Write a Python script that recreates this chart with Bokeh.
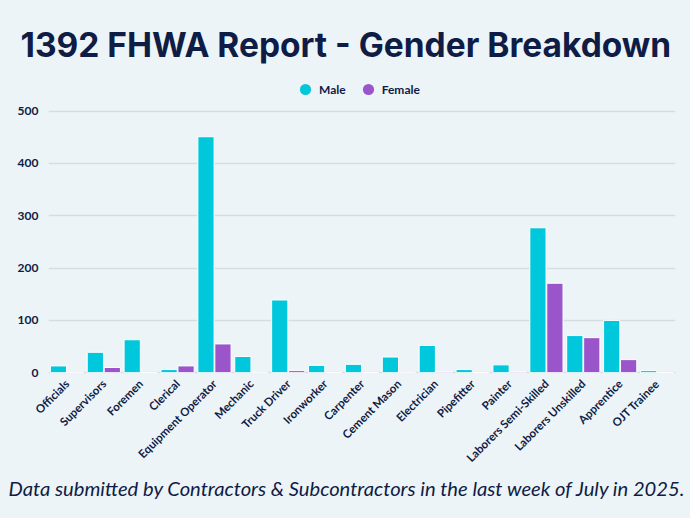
import math
from bokeh.plotting import figure
from bokeh.models import ColumnDataSource, FactorRange, Range1d, Legend, LegendItem, Title
from bokeh.transform import dodge
from bokeh.embed import file_html
from bokeh.resources import INLINE

categories = ["Officials", "Supervisors", "Foremen", "Clerical", "Equipment Operator",
              "Mechanic", "Truck Driver", "Ironworker", "Carpenter", "Cement Mason",
              "Electrician", "Pipefitter", "Painter", "Laborers Semi-Skilled",
              "Laborers Unskilled", "Apprentice", "OJT Trainee"]
male = [13, 39, 63, 6, 451, 31, 139, 14, 16, 30, 52, 6, 15, 277, 71, 100, 4]
female = [1, 10, 0, 13, 55, 1, 4, 0, 0, 1, 2, 0, 2, 171, 67, 25, 0]
y_ticks = [0, 100, 200, 300, 400, 500]

BG = "#edf4f7"
NAVY = "#0f1c45"
CYAN = "#00c8dc"
PURPLE = "#9a55cb"

src = ColumnDataSource(dict(cat=categories, male=male, female=female))

p = figure(x_range=FactorRange(*categories, range_padding=0),
           y_range=Range1d(-1.5, 568),
           frame_width=627, frame_height=298,
           output_backend="svg", toolbar_location=None,
           background_fill_color=BG, border_fill_color=BG,
           min_border_left=48, min_border_right=15, min_border_top=75, min_border_bottom=145)
p.outline_line_color = None

p.vbar(x=dodge("cat", -0.23, range=p.x_range), top="male", width=0.44, source=src,
       fill_color=CYAN, line_color="white", line_width=1)
p.vbar(x=dodge("cat", 0.23, range=p.x_range), top="female", width=0.44, source=src,
       fill_color=PURPLE, line_color="white", line_width=1)

lm = p.scatter(x=[categories[0]], y=[-100], size=12, marker="circle", fill_color=CYAN, line_color=None)
lf = p.scatter(x=[categories[0]], y=[-100], size=12, marker="circle", fill_color=PURPLE, line_color=None)

p.xgrid.grid_line_color = None
p.ygrid.grid_line_color = "#d5dde2"
p.ygrid.grid_line_width = 1.5
p.yaxis.ticker = y_ticks
p.yaxis.axis_line_color = None
p.yaxis.major_tick_line_color = None
p.yaxis.minor_tick_line_color = None
p.yaxis.major_tick_out = 0
p.yaxis.minor_tick_out = 0
p.yaxis.major_label_standoff = 10
p.xaxis.axis_line_color = None
p.xaxis.major_tick_line_color = None
p.xaxis.major_tick_out = 0
p.xaxis.major_label_orientation = math.pi / 4
p.xaxis.major_label_standoff = 8
for ax in (p.xaxis, p.yaxis):
    ax.major_label_text_font = "Lato"
    ax.major_label_text_font_style = "bold"
    ax.major_label_text_color = NAVY
p.xaxis.major_label_text_font_size = "11.5px"
p.yaxis.major_label_text_font_size = "12px"

legend = Legend(items=[LegendItem(label="Male", renderers=[lm]),
                       LegendItem(label="Female", renderers=[lf])],
                orientation="horizontal", location=(243, 270),
                glyph_width=28, glyph_height=28, label_standoff=-3, spacing=8,
                padding=0, margin=0, border_line_color=None,
                background_fill_alpha=0,
                label_text_font="Lato", label_text_font_style="bold",
                label_text_font_size="12px", label_text_color=NAVY)
p.add_layout(legend, "center")

caption = Title(text="Data submitted by Contractors & Subcontractors in the last week of July in 2025.",
                align="left", text_font="Lato", text_font_style="italic",
                text_font_size="20.2px", text_color=NAVY, standoff=5, offset=-40)
p.add_layout(caption, "below")

p.title = Title(text="1392 FHWA Report - Gender Breakdown", align="left",
                text_font="Inter", text_font_style="bold", text_font_size="33.5px",
                text_color=NAVY, standoff=21, offset=-28)

html = file_html(p, INLINE)
html = html.replace("</head>", "<style>html,body{background:%s;}</style></head>" % BG, 1)
open("out.html", "w").write(html)
